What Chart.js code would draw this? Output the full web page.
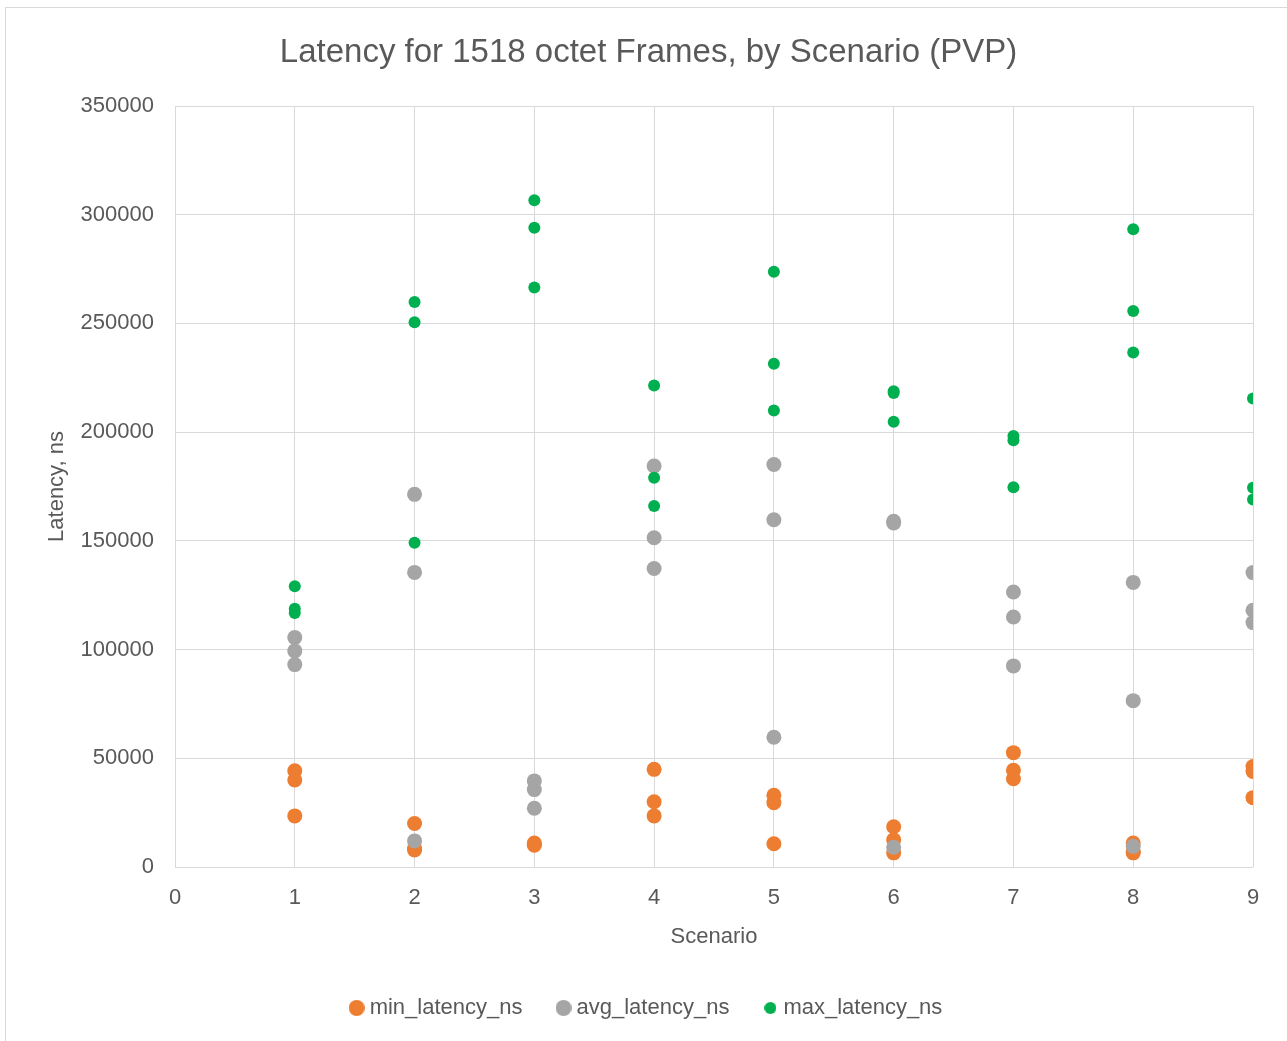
<!DOCTYPE html>
<html>
<head>
<meta charset="utf-8">
<script src="https://cdn.jsdelivr.net/npm/chart.js@4.4.1/dist/chart.umd.min.js"></script>
<style>
  html, body { margin: 0; padding: 0; background: #fff; }
  #frame {
    position: absolute; left: 5px; top: 7px; width: 1300px; height: 1040px;
    border: 1px solid #d9d9d9; box-sizing: border-box;
  }
  #wrap { position: absolute; left: 0; top: 0; width: 1287px; height: 1041px; }
</style>
</head>
<body>
<div id="frame"></div>
<div id="wrap"><canvas id="chart"></canvas></div>
<script>
// scenarios on the x axis, three runs per scenario
const scenarios = [1, 2, 3, 4, 5, 6, 7, 8, 9];
const xTicks = [0, 1, 2, 3, 4, 5, 6, 7, 8, 9];
const yTicks = [0, 50000, 100000, 150000, 200000, 250000, 300000, 350000];

const minLatency = [
  [44300, 40000, 23500],
  [20000, 8500, 7800],
  [11000, 10500, 10000],
  [44900, 30000, 23500],
  [33000, 29600, 10700],
  [18500, 12500, 6500],
  [52600, 44500, 40600],
  [11000, 7000, 6500],
  [46200, 43900, 31900]
];
const avgLatency = [
  [105500, 99400, 93100],
  [171400, 135500, 12000],
  [39600, 35600, 27000],
  [184400, 151400, 137300],
  [185100, 159700, 59700],
  [159000, 158200, 9100],
  [126500, 115000, 92500],
  [130900, 76500, 9500],
  [135400, 118100, 112400]
];
const maxLatency = [
  [129100, 118800, 116800],
  [259900, 250500, 149100],
  [306600, 294000, 266500],
  [221500, 179000, 166000],
  [273800, 231500, 210000],
  [218800, 218000, 204800],
  [198200, 196300, 174700],
  [293300, 255700, 236600],
  [215500, 174400, 169000]
];

const textColor = '#595959';
const gridColor = '#d9d9d9';
const font = 'Liberation Sans, Arial, sans-serif';

// flatten scenario/run values into {x, y} points
const toPoints = (rows) => {
  const pts = [];
  rows.forEach((runs, i) => runs.forEach(v => pts.push({ x: scenarios[i], y: v })));
  return pts;
};

// little dots for the legend so each series can keep its own marker size
const makeDot = (color, r) => {
  const c = document.createElement('canvas');
  c.width = r * 2; c.height = r * 2;
  const g = c.getContext('2d');
  g.fillStyle = color;
  g.beginPath();
  g.arc(r, r, r, 0, Math.PI * 2);
  g.fill();
  return c;
};
const legendDots = [makeDot('#ED7D31', 8), makeDot('#A5A5A5', 8), makeDot('#00B050', 6)];

new Chart(document.getElementById('chart'), {
  type: 'scatter',
  data: {
    datasets: [
      {
        label: 'min_latency_ns',
        data: toPoints(minLatency),
        backgroundColor: '#ED7D31',
        borderColor: '#ED7D31',
        pointRadius: 7.5,
        pointBorderWidth: 0,
        order: 3
      },
      {
        label: 'avg_latency_ns',
        data: toPoints(avgLatency),
        backgroundColor: '#A5A5A5',
        borderColor: '#A5A5A5',
        pointRadius: 7.5,
        pointBorderWidth: 0,
        order: 2
      },
      {
        label: 'max_latency_ns',
        data: toPoints(maxLatency),
        backgroundColor: '#00B050',
        borderColor: '#00B050',
        pointRadius: 6,
        pointBorderWidth: 0,
        order: 1
      }
    ]
  },
  options: {
    responsive: true,
    maintainAspectRatio: false,
    animation: false,
    layout: { padding: { top: 0, left: 44, right: 34, bottom: 12 } },
    plugins: {
      title: {
        display: true,
        text: 'Latency for 1518 octet Frames, by Scenario (PVP)',
        color: textColor,
        font: { family: font, size: 33, weight: 'normal' },
        padding: { top: 33, bottom: 33.4 }
      },
      legend: {
        position: 'bottom',
        labels: {
          usePointStyle: true,
          boxWidth: 4,
          boxHeight: 16,
          padding: 39,
          color: textColor,
          font: { family: font, size: 22 },
          sort: (a, b) => a.datasetIndex - b.datasetIndex,
          generateLabels: (chart) => {
            const items = Chart.defaults.plugins.legend.labels.generateLabels(chart);
            items.forEach(it => { it.pointStyle = legendDots[it.datasetIndex]; });
            return items;
          }
        }
      },
      tooltip: { enabled: false }
    },
    scales: {
      x: {
        type: 'linear',
        min: 0,
        max: 9,
        afterBuildTicks: (scale) => { scale.ticks = xTicks.map(v => ({ value: v })); },
        afterFit: (scale) => { scale.height = 91; },
        grid: { color: gridColor, drawTicks: false },
        border: { display: false },
        ticks: { color: textColor, padding: 18, font: { family: font, size: 22 }, callback: (v) => String(v) },
        title: {
          display: true,
          text: 'Scenario',
          color: textColor,
          font: { family: font, size: 22 },
          padding: { top: 0, bottom: 8 }
        }
      },
      y: {
        min: 0,
        max: 350000,
        afterBuildTicks: (scale) => { scale.ticks = yTicks.map(v => ({ value: v })); },
        afterFit: (scale) => { scale.width = 131; },
        grid: { color: gridColor, drawTicks: false },
        border: { display: false },
        ticks: { color: textColor, padding: 21, font: { family: font, size: 22 }, callback: (v) => String(v) },
        title: {
          display: true,
          text: 'Latency, ns',
          color: textColor,
          font: { family: font, size: 22 },
          padding: { top: 0, bottom: 0 }
        }
      }
    }
  }
});
</script>
</body>
</html>
